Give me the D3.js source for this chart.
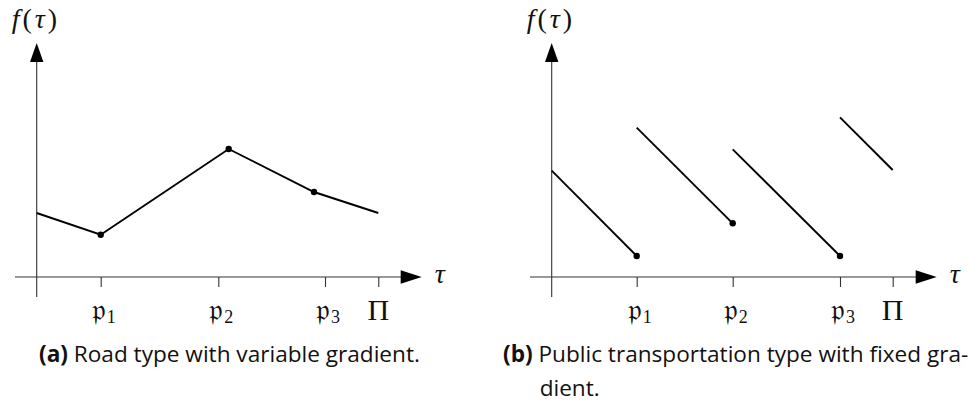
<!DOCTYPE html>
<html>
<head>
<meta charset="utf-8">
<script src="https://cdn.jsdelivr.net/npm/d3@7"></script>
<style>
  body { margin: 0; background: #fff; }
  svg { display: block; }
  .math { font-family: "Liberation Serif", "DejaVu Serif", serif; }
  .cap { font-family: "Open Sans", "Noto Sans", sans-serif; font-size: 22.6px; fill: #111; }
</style>
</head>
<body>
<svg id="chart" width="975" height="403"></svg>
<script>
// Horizontal labels under each τ axis
const tickNames = ["𝔭", "𝔭", "𝔭", "Π"];
const tickSubs = ["1", "2", "3", ""];

// (a) road: piecewise-linear cost with breakpoints
const roadTicks = [64, 181.6, 288.3, 341.6];
const roadTau = [0, 64, 192, 277.3, 341.6];
const roadCost = [64, 42.3, 128, 85, 64];
const roadDot = [false, true, true, true, false];

// (b) public transport: one falling segment per departure
const ptTicks = [85, 181, 288.3, 341];
const ptStartTau = [0, 85, 181, 288.3];
const ptEndTau = [85, 181, 288.3, 341];
const ptStartCost = [106.3, 149.3, 127.7, 159.7];
const ptEndCost = [21, 53.7, 21, 107];
const ptDot = [true, true, true, false];

// Captions
const captionTags = ["(a)", "(b)"];
const captionLines = [
  ["Road type with variable gradient."],
  ["Public transportation type with fixed gra-", "dient."]
];

const svg = d3.select("#chart");

function panel(ox, ticks, caption, tag, capX) {
  const g = svg.append("g");
  const x = d3.scaleLinear().domain([0, 385]).range([ox, ox + 385]);
  const y = d3.scaleLinear().domain([0, 234]).range([277, 43]);

  // axis lines
  g.append("line").attr("x1", x(-21.7)).attr("x2", x(365)).attr("y1", y(0)).attr("y2", y(0))
    .attr("stroke", "#333").attr("stroke-width", 1.1);
  g.append("line").attr("x1", x(0)).attr("x2", x(0)).attr("y1", y(-20)).attr("y2", y(216))
    .attr("stroke", "#333").attr("stroke-width", 1.1);
  // arrowheads
  g.append("path")
    .attr("d", `M${x(385)},${y(0)} L${x(364)},${y(0) - 6.7} L${x(364)},${y(0) + 6.7} Z`)
    .attr("fill", "#000");
  g.append("path")
    .attr("d", `M${x(0)},${y(234)} L${x(0) - 6.7},${y(215)} L${x(0) + 6.7},${y(215)} Z`)
    .attr("fill", "#000");

  // ticks through d3 axis
  const ax = d3.axisBottom(x).tickValues(ticks).tickSize(10).tickSizeOuter(0).tickFormat("");
  const axg = g.append("g").attr("transform", `translate(0,${y(0)})`).call(ax);
  axg.select(".domain").remove();
  axg.selectAll(".tick line").attr("stroke", "#333").attr("stroke-width", 1.1);

  // tick labels
  ticks.forEach((t, i) => {
    const txt = g.append("text").attr("class", "math")
      .attr("x", x(t) + (tickSubs[i] ? 3 : 0)).attr("y", tickSubs[i] ? 320 : 320)
      .attr("text-anchor", "middle").attr("font-size", tickSubs[i] ? 30 : 30).attr("fill", "#111");
    txt.append("tspan").text(tickNames[i]);
    if (tickSubs[i]) txt.append("tspan").attr("font-size", 18).attr("dy", 3).attr("dx", 1).text(tickSubs[i]);
  });

  // axis labels
  const fy = g.append("text").attr("class", "math").attr("x", x(0) - 25).attr("y", 28)
    .attr("font-size", 28).attr("letter-spacing", 3).attr("fill", "#111");
  fy.append("tspan").attr("font-style", "italic").text("f");
  fy.append("tspan").text("(");
  fy.append("tspan").attr("font-style", "italic").text("τ");
  fy.append("tspan").text(")");
  g.append("text").attr("class", "math").attr("x", x(398)).attr("y", 283)
    .attr("font-size", 28).attr("font-style", "italic").attr("fill", "#111").text("τ");

  // caption
  const cap = g.append("text").attr("class", "cap").attr("x", capX).attr("y", 362);
  cap.append("tspan").attr("font-weight", "bold").text(tag);
  cap.append("tspan").text(" " + caption[0]);
  return { g, x, y, cap };
}

// (a)
const a = panel(36.7, roadTicks, captionLines[0], captionTags[0], 39);
const roadPts = roadTau.map((t, i) => [t, roadCost[i], roadDot[i]]);
a.g.append("path").datum(roadPts)
  .attr("d", d3.line().x(d => a.x(d[0])).y(d => a.y(d[1])))
  .attr("fill", "none").attr("stroke", "#000").attr("stroke-width", 1.9);
a.g.selectAll("circle.dot").data(roadPts.filter(d => d[2])).join("circle")
  .attr("class", "dot").attr("cx", d => a.x(d[0])).attr("cy", d => a.y(d[1])).attr("r", 3.2);

// (b)
const b = panel(551.7, ptTicks, captionLines[1], captionTags[1], 503);
const segs = ptStartTau.map((t, i) => ({ t0: t, t1: ptEndTau[i], c0: ptStartCost[i], c1: ptEndCost[i], dot: ptDot[i] }));
b.g.selectAll("line.seg").data(segs).join("line").attr("class", "seg")
  .attr("x1", d => b.x(d.t0)).attr("y1", d => b.y(d.c0))
  .attr("x2", d => b.x(d.t1)).attr("y2", d => b.y(d.c1))
  .attr("stroke", "#000").attr("stroke-width", 1.9);
b.g.selectAll("circle.dot").data(segs.filter(d => d.dot)).join("circle")
  .attr("class", "dot").attr("cx", d => b.x(d.t1)).attr("cy", d => b.y(d.c1)).attr("r", 3.2);

// continuation line of caption (b), aligned with the text after the tag
const tagW = b.cap.select("tspan").node().getComputedTextLength();
b.g.append("text").attr("class", "cap").attr("x", 503 + tagW + 7).attr("y", 396).text(captionLines[1][1]);
</script>
</body>
</html>
